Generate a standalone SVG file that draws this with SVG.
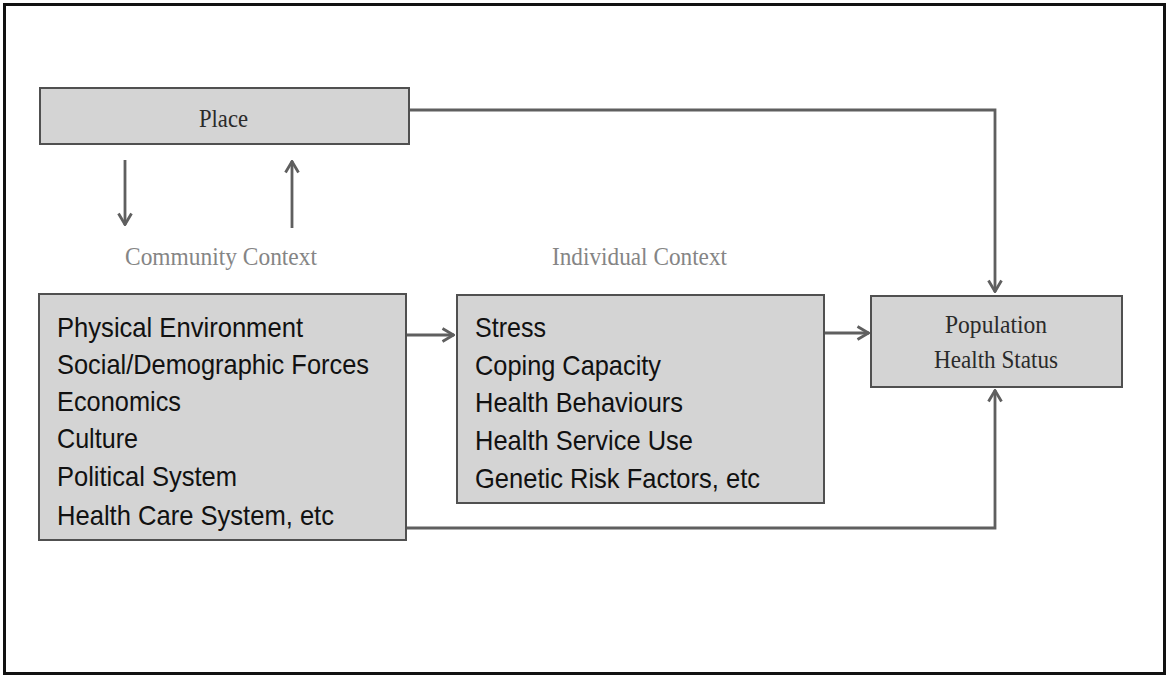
<svg xmlns="http://www.w3.org/2000/svg" width="1167" height="676" viewBox="0 0 1167 676">
<defs>
<marker id="arr" viewBox="0 0 14 16" refX="13" refY="8" markerWidth="14" markerHeight="16" markerUnits="userSpaceOnUse" orient="auto">
<path d="M1.5,1.5 L12.5,8 L1.5,14.5" fill="none" stroke="#5f5f5f" stroke-width="2.8"/>
</marker>
<style>
.box{fill:#d4d4d4;stroke:#505050;stroke-width:2}
.sans{font-family:"Liberation Sans",Arial,sans-serif;font-size:28px;fill:#111}
.serif{font-family:"Liberation Serif","Times New Roman",serif;font-size:26px;fill:#2a2a2a}
.ctx{font-family:"Liberation Serif","Times New Roman",serif;font-size:26px;fill:#858585}
.con{fill:none;stroke:#5f5f5f;stroke-width:2.8}
</style>
</defs>
<rect x="0" y="0" width="1167" height="676" fill="#fff"/>
<rect x="4.5" y="4.5" width="1160" height="669" fill="none" stroke="#111" stroke-width="3"/>

<g id="connectors">
<path class="con" d="M409,110 H995 V292" marker-end="url(#arr)"/>
<path class="con" d="M125,160 V225" marker-end="url(#arr)"/>
<path class="con" d="M292,228 V161" marker-end="url(#arr)"/>
<path class="con" d="M406,335 H454" marker-end="url(#arr)"/>
<path class="con" d="M824,333 H869" marker-end="url(#arr)"/>
<path class="con" d="M407,528 H995 V390" marker-end="url(#arr)"/>
</g>

<g id="place">
<rect class="box" x="40" y="88" width="369" height="56"/>
<text class="serif" x="199" y="127" textLength="49" lengthAdjust="spacingAndGlyphs">Place</text>
</g>

<g id="community-context">
<text class="ctx" x="125" y="265" textLength="192" lengthAdjust="spacingAndGlyphs">Community Context</text>
</g>

<g id="individual-context">
<text class="ctx" x="552" y="265" textLength="175" lengthAdjust="spacingAndGlyphs">Individual Context</text>
</g>

<g id="community-factors">
<rect class="box" x="39" y="294" width="367" height="246"/>
<text class="sans" x="57" y="337" textLength="246" lengthAdjust="spacingAndGlyphs">Physical Environment</text>
<text class="sans" x="57" y="374" textLength="312" lengthAdjust="spacingAndGlyphs">Social/Demographic Forces</text>
<text class="sans" x="57" y="411" textLength="124" lengthAdjust="spacingAndGlyphs">Economics</text>
<text class="sans" x="57" y="448" textLength="81" lengthAdjust="spacingAndGlyphs">Culture</text>
<text class="sans" x="57" y="486" textLength="180" lengthAdjust="spacingAndGlyphs">Political System</text>
<text class="sans" x="57" y="525" textLength="277" lengthAdjust="spacingAndGlyphs">Health Care System, etc</text>
</g>

<g id="individual-factors">
<rect class="box" x="457" y="295" width="367" height="208"/>
<text class="sans" x="475" y="337" textLength="71" lengthAdjust="spacingAndGlyphs">Stress</text>
<text class="sans" x="475" y="375" textLength="186" lengthAdjust="spacingAndGlyphs">Coping Capacity</text>
<text class="sans" x="475" y="412" textLength="208" lengthAdjust="spacingAndGlyphs">Health Behaviours</text>
<text class="sans" x="475" y="450" textLength="218" lengthAdjust="spacingAndGlyphs">Health Service Use</text>
<text class="sans" x="475" y="488" textLength="285" lengthAdjust="spacingAndGlyphs">Genetic Risk Factors, etc</text>
</g>

<g id="population-health">
<rect class="box" x="871" y="296" width="251" height="91"/>
<text class="serif" x="945" y="333" textLength="102" lengthAdjust="spacingAndGlyphs">Population</text>
<text class="serif" x="934" y="368" textLength="124" lengthAdjust="spacingAndGlyphs">Health Status</text>
</g>
</svg>
